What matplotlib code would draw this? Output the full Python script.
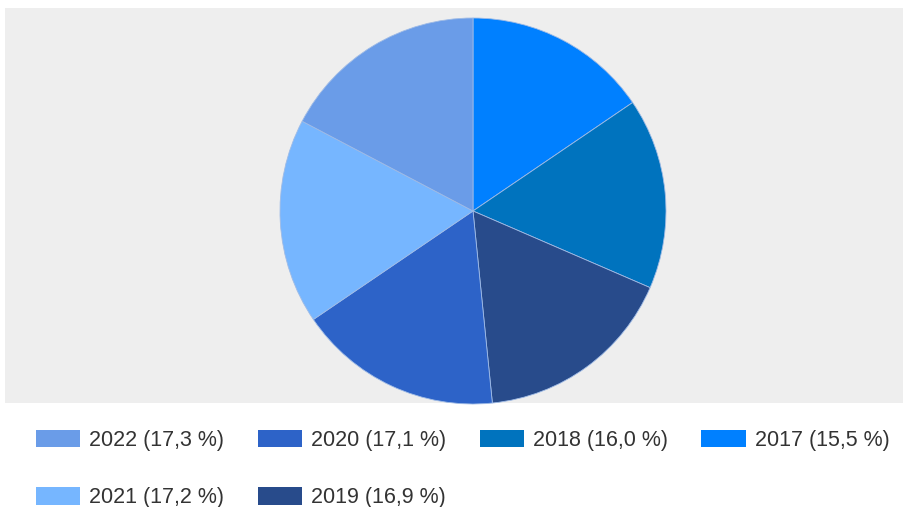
import matplotlib
matplotlib.use("Agg")
import matplotlib.pyplot as plt

# Daten (Anteile in %)
years = ["2017", "2018", "2019", "2020", "2021", "2022"]
shares = [15.5, 16.0, 16.9, 17.1, 17.2, 17.3]
colors = ["#0080FF", "#0073BE", "#284B8B", "#2D63C8", "#76B6FF", "#6A9CE8"]

labels = [f"{y} ({str(v).replace('.', ',')} %)" for y, v in zip(years, shares)]

plt.rcParams["font.family"] = ["Liberation Sans", "DejaVu Sans"]

W, H = 904, 507
fig = plt.figure(figsize=(W / 100, H / 100), dpi=100)

# grauer Plotbereich
ax = fig.add_axes([5 / W, (H - 403) / H, 899 / W, 395 / H])
ax.set_facecolor("#EEEEEE")
wedges, _ = ax.pie(shares, colors=colors, startangle=90, counterclock=False,
                   center=(468, 192), radius=193, frame=True,
                   wedgeprops=dict(linewidth=0.6, edgecolor="#9fbbe6"))
ax.set_xlim(0, 899)
ax.set_ylim(0, 395)
ax.set_xticks([])
ax.set_yticks([])
for s in ax.spines.values():
    s.set_visible(False)

# Legende: 2022 zuerst, spaltenweise
order = list(range(len(years)))[::-1]
leg = fig.legend([wedges[i] for i in order], [labels[i] for i in order],
                 ncol=4, loc="upper left", bbox_to_anchor=(36 / W, 1 - 429.5 / H),
                 frameon=False, fontsize=15.5, handlelength=2.05, handleheight=0.88,
                 handletextpad=0.42, columnspacing=1.56, labelspacing=1.69,
                 borderaxespad=0, borderpad=0, labelcolor="#333333")
for h in leg.legend_handles:
    h.set_linewidth(0)

fig.savefig("out.png", dpi=100)
